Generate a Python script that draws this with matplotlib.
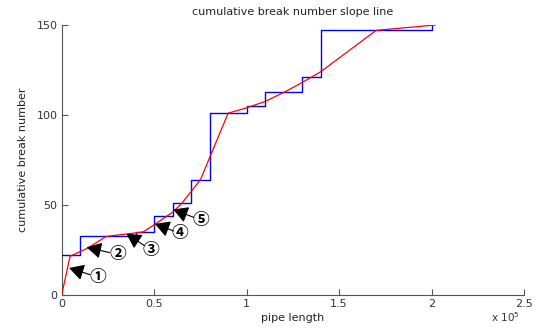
import matplotlib
matplotlib.use("Agg")
import matplotlib.pyplot as plt
from matplotlib.ticker import FuncFormatter

# blue step curve: cumulative break count at each pipe length (post steps)
step_len = [0, 10000, 40000, 50000, 60000, 70000, 80000, 100000, 110000,
            130000, 140000, 200000]
step_cnt = [22, 33, 35, 44, 51, 64, 101, 105, 113, 121, 147, 150]

# red slope polyline
slope_len = [0, 4500, 14000, 24000, 44000, 50000, 60000, 65000, 75000, 90000,
             100000, 110000, 120000, 130000, 140000, 170000, 202000]
slope_cnt = [0, 21.5, 26, 32.5, 35, 39, 46, 51, 64, 101,
             104, 107.5, 112.5, 118, 124, 147, 150]

# arrow annotations: label, arrow tip, label position
marks = ["\u2460", "\u2461", "\u2462", "\u2463", "\u2464"]
tip_len = [4000, 13500, 35000, 50400, 60300]
tip_cnt = [15, 26.5, 34, 39.5, 47.5]
lab_len = [19300, 30300, 48300, 64000, 75300]
lab_cnt = [10, 22.5, 25, 34.2, 41.6]

AX = "#555555"
plt.rcParams["font.family"] = ["DejaVu Sans", "Noto Sans CJK SC"]

fig = plt.figure(figsize=(5.37, 3.31), dpi=100)
ax = fig.add_axes([0.1149, 0.1088, 0.861, 0.8157])

ax.step(step_len, step_cnt, where="post", color="#0000ff", lw=1.0, zorder=3)
ax.plot(slope_len, slope_cnt, color="#ff0000", lw=0.9, zorder=4)

for m, tx, ty, lx, ly in zip(marks, tip_len, tip_cnt, lab_len, lab_cnt):
    # shaft starts just left of the circled number
    sx = tx + 0.74 * (lx - tx)
    sy = ty + 0.74 * (ly - ty)
    ax.annotate("", xy=(tx, ty), xytext=(sx, sy),
                arrowprops=dict(arrowstyle="-|>,head_length=0.9,head_width=0.5",
                                color="black", lw=0.8, shrinkA=0, shrinkB=0,
                                mutation_scale=10),
                zorder=5)
    ax.text(lx, ly, m, ha="center", va="center", fontsize=12,
            family="Noto Sans CJK SC", fontweight="bold", color="black", zorder=6)

ax.set_xlim(0, 250000)
ax.set_ylim(0, 150)
ax.set_xticks([0, 50000, 100000, 150000, 200000, 250000])
ax.set_yticks([0, 50, 100, 150])
ax.xaxis.set_major_formatter(FuncFormatter(lambda v, p: f"{v/1e5:g}"))

for s in ["top", "right"]:
    ax.spines[s].set_visible(False)
for s in ["left", "bottom"]:
    ax.spines[s].set_color(AX)
    ax.spines[s].set_linewidth(0.8)
ax.tick_params(direction="in", length=4, width=0.8, color=AX,
               labelsize=8, labelcolor="#333333", pad=3)

ax.set_title("cumulative break number slope line", fontsize=8, color="#222222", pad=7)
ax.set_xlabel("pipe length", fontsize=8, color="#222222", labelpad=3)
ax.set_ylabel("cumulative break number", fontsize=8, color="#222222", labelpad=6)
fig.text(0.915, 0.022, "x 10$^5$", fontsize=7.5, color="#333333", ha="left", va="bottom")

fig.savefig("out.png", dpi=100)
